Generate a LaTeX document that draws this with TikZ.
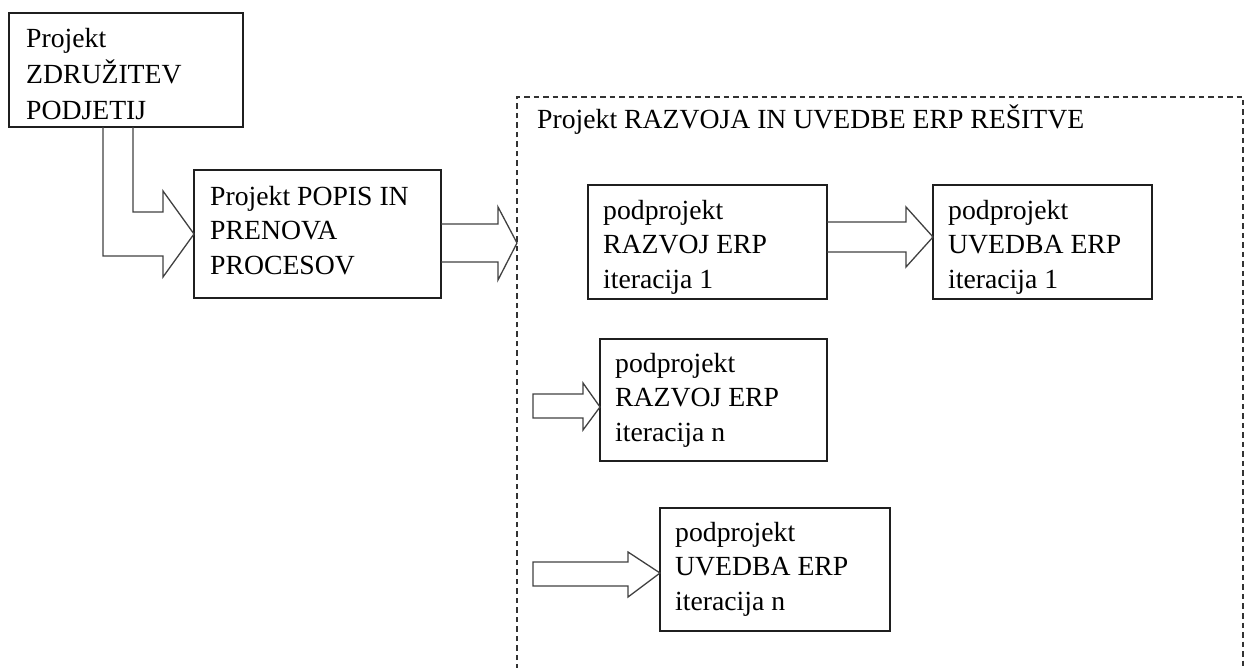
\documentclass[tikz,border=0pt]{standalone}
\usepackage{fontspec}
\setmainfont{Liberation Serif}
\usetikzlibrary{calc}
\begin{document}
\begin{tikzpicture}[x=1pt,y=-1pt,
  box/.style={draw=black!88,line width=1.5pt,anchor=north west,inner sep=0pt,outer sep=0pt},
  txt/.style={font=\fontsize{27.7}{34.5}\selectfont,align=left,inner sep=0pt,anchor=north west},
  blk/.style={draw=black!75,line width=1.3pt,line join=miter},
  frame/.style={draw=black!80,line width=1.8pt,dash pattern=on 5.5pt off 4pt}]
\useasboundingbox (0,0) rectangle (1251,668);
\clip (0,0) rectangle (1251,668);

% project boxes
\node[box,minimum width=234pt,minimum height=114pt] (b1) at (9,13) {};
\node[box,minimum width=247pt,minimum height=128pt] (b2) at (194,170) {};
\node[box,minimum width=239pt,minimum height=114pt] (r1) at (588,185) {};
\node[box,minimum width=219pt,minimum height=114pt] (u1) at (933,185) {};
\node[box,minimum width=227pt,minimum height=122pt] (rn) at (600,339) {};
\node[box,minimum width=230pt,minimum height=123pt] (un) at (660,508) {};

% box texts
\node[txt,font=\fontsize{27.7}{36}\selectfont] (t1) at ($(b1.north west)+(17,15)$) {Projekt\\ZDRUŽITEV\\PODJETIJ};
\node[txt] (t2) at ($(b2.north west)+(16,16)$) {Projekt POPIS IN\\PRENOVA\\PROCESOV};
\node[txt] (t3) at ($(r1.north west)+(15,15)$) {podprojekt\\RAZVOJ ERP\\iteracija 1};
\node[txt] (t4) at ($(u1.north west)+(15,15)$) {podprojekt\\UVEDBA ERP\\iteracija 1};
\node[txt] (t5) at ($(rn.north west)+(15,14)$) {podprojekt\\RAZVOJ ERP\\iteracija n};
\node[txt] (t6) at ($(un.north west)+(15,14)$) {podprojekt\\UVEDBA ERP\\iteracija n};

% dashed frame of the ERP project, running past the lower edge
\coordinate (fl) at (517,97);
\coordinate (fr) at (1243,97);
\draw[frame] ($(fl)+(0,620)$) -- (fl) -- (fr) -- ($(fr)+(0,620)$);
\node[font=\fontsize{27.7}{34.5}\selectfont,anchor=base west,inner sep=0pt] (title) at (537,129) {Projekt RAZVOJA IN UVEDBE ERP REŠITVE};

% bent block arrow from the merger project to the process project
\draw[blk] ($(b1.south west)+(94,0)$) |- ($(b2.west)+(-31,22)$) -- ++(0,21) -- (b2.west)
  -- ++(-31,-43) -- ++(0,21) -| ($(b1.south west)+(124,0)$);

% block arrow into the dashed frame
\coordinate (in1) at (517,243);
\draw[blk] ($(b2.east|-in1)+(0,-19)$) -- ($(in1)+(-19,-19)$) -- ++(0,-17) -- (in1)
  -- ++(-19,37) -- ++(0,-18) -- ($(b2.east|-in1)+(0,19)$);

% development 1 -> deployment 1
\draw[blk] ($(r1.east)+(0,-20)$) -- ($(u1.west)+(-27,-20)$) -- ++(0,-15) -- ($(u1.west)+(0,-5)$)
  -- ++(-27,30) -- ++(0,-15) -- ($(r1.east)+(0,10)$);

% incoming arrows of iteration n
\coordinate (srcn) at (533,406);
\draw[blk] ($(srcn)+(0,-12)$) -- ($(rn.west)+(-17,-6)$) -- ++(0,-11) -- ($(rn.west)+(0,7)$)
  -- ++(-17,23) -- ++(0,-12) -- ($(srcn)+(0,12)$) -- cycle;
\coordinate (srcu) at (533,574);
\draw[blk] ($(srcu)+(0,-12)$) -- ($(un.west)+(-32,-7.5)$) -- ++(0,-10) -- ($(un.west)+(0,3.5)$)
  -- ++(-32,24) -- ++(0,-11) -- ($(srcu)+(0,12)$) -- cycle;
\end{tikzpicture}
\end{document}
